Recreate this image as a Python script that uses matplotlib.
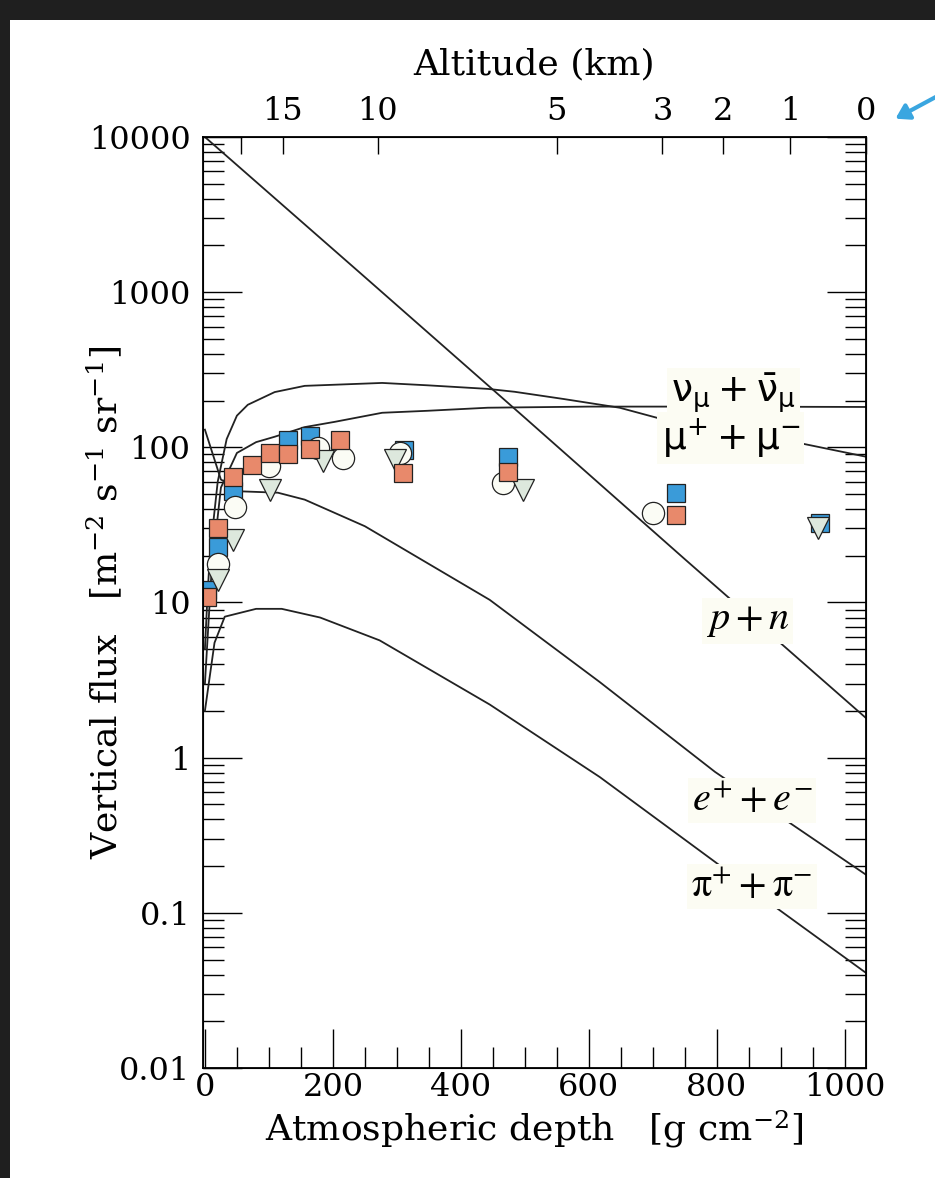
import matplotlib
matplotlib.use("Agg")
import matplotlib.pyplot as plt
import matplotlib.ticker as mticker
from matplotlib.patches import Rectangle, FancyArrowPatch

plt.rcParams['font.family'] = ['DejaVu Serif']
plt.rcParams['mathtext.fontset'] = 'dejavuserif'

# ---- model curves (depth in g/cm^2, flux in m^-2 s^-1 sr^-1) ----
pn_depth = [0, 250, 500, 750, 1033]
pn_flux = [10000, 1250, 155, 19, 1.8]

mu_depth = [0, 4, 8, 20, 34, 50, 67, 109, 156, 277, 348, 442, 484, 560, 648, 714, 927, 1033]
mu_flux = [5, 11, 21, 60, 113, 160, 188, 227, 249, 260, 251, 238, 228, 205, 180, 152, 107, 87]

nu_depth = [0, 10, 25, 50, 80, 109, 156, 203, 277, 348, 442, 600, 800, 1033]
nu_flux = [3, 15, 55, 92, 108, 117, 135, 146, 167, 172, 180, 183, 183, 182]

e_depth = [0, 25, 58, 114, 156, 250, 445, 617, 797, 902, 1033]
e_flux = [130, 62, 52, 51, 46, 31, 10.4, 3.07, 0.81, 0.41, 0.176]

pi_depth = [0, 15, 31, 80, 120, 180, 273, 445, 617, 797, 886, 1033]
pi_flux = [2.0, 5.5, 8.1, 9.1, 9.1, 8.0, 5.7, 2.2, 0.75, 0.213, 0.113, 0.041]

# ---- measurements ----
orange_depth = [4, 20, 44, 73, 102, 130, 164, 211, 309, 473, 736]
orange_flux = [10.9, 30.3, 64, 77, 92, 91, 98, 112, 68, 69.5, 36.7]

blue_depth = [4, 20, 44, 130, 164, 311, 473, 736, 961]
blue_flux = [12, 22.8, 52, 112, 118, 96, 87, 51, 32.6]

circle_depth = [20, 47, 100, 177, 216, 305, 466, 700]
circle_flux = [17.7, 41, 76, 99, 85.5, 92, 59, 37.8]

tri_depth = [20, 44, 102, 184, 297, 497, 958]
tri_flux = [14, 25.3, 53, 82, 83, 53, 30.3]

# altitude axis
alt_depth = [56, 122, 270, 550, 715, 810, 915, 1033]
alt_labels = ['', '15', '10', '5', '3', '2', '1', '0']

y_ticks = [0.01, 0.1, 1, 10, 100, 1000, 10000]
y_labels = ['0.01', '0.1', '1', '10', '100', '1000', '10000']

fig = plt.figure(figsize=(9.35, 11.78), dpi=100)
fig.patch.set_facecolor('#1f1f1f')
fig.patches.append(Rectangle((10 / 935, 0), 1, 1 - 20 / 1178, transform=fig.transFigure,
                             facecolor='white', edgecolor='none', zorder=-10))

ax = fig.add_axes([0.2171, 0.0934, 0.7091, 0.7903])
ax.set_yscale('log')
ax.set_xlim(-3, 1033)
ax.set_ylim(0.01, 10000)

lw = 1.3
for d, f in [(pn_depth, pn_flux), (mu_depth, mu_flux), (nu_depth, nu_flux),
             (e_depth, e_flux), (pi_depth, pi_flux)]:
    ax.plot(d, f, color='#222222', linewidth=lw, zorder=2)

ax.plot(blue_depth, blue_flux, 's', ms=12.5, mfc='#3a9bd9', mec='#222222', mew=0.9, zorder=3)
ax.plot(circle_depth, circle_flux, 'o', ms=16, mfc='#fbfcf5', mec='#222222', mew=0.9, zorder=4)
ax.plot(tri_depth, tri_flux, 'v', ms=16, mfc='#dde8dd', mec='#222222', mew=0.9, zorder=5)
ax.plot(orange_depth, orange_flux, 's', ms=13, mfc='#e8896b', mec='#222222', mew=0.9, zorder=6)

# curve labels
box = dict(facecolor='#fcfcf3', edgecolor='none', pad=3)
sans_kw = dict(fontsize=27, ha='center', va='center', math_fontfamily='dejavusans', bbox=box, zorder=7)
serif_kw = dict(fontsize=29, ha='center', va='center', math_fontfamily='stix', bbox=box, zorder=7)
ax.text(826, 218, r'$\mathrm{\nu}_{\mathrm{\mu}} + \bar{\mathrm{\nu}}_{\mathrm{\mu}}$', **sans_kw)
ax.text(822, 115, r'$\mathrm{\mu}^{+} + \mathrm{\mu}^{-}$', **sans_kw)
ax.text(848, 7.6, r'$p + n$', **serif_kw)
ax.text(855, 0.53, r'$e^{+} + e^{-}$', **serif_kw)
ax.text(855, 0.147, r'$\mathrm{\pi}^{+} + \mathrm{\pi}^{-}$', **serif_kw)

# axes styling
ax.yaxis.set_major_locator(mticker.FixedLocator(y_ticks))
ax.yaxis.set_major_formatter(mticker.FixedFormatter(y_labels))
ax.yaxis.set_minor_locator(mticker.LogLocator(base=10, subs=range(2, 10), numticks=20))
ax.yaxis.set_minor_formatter(mticker.NullFormatter())
ax.xaxis.set_major_locator(mticker.MultipleLocator(200))
ax.xaxis.set_minor_locator(mticker.MultipleLocator(50))
ax.tick_params(which='major', direction='in', length=28, width=1.0, labelsize=23,
               left=True, right=True, bottom=True, top=False)
ax.tick_params(axis='y', which='major', pad=9)
ax.tick_params(axis='x', which='major', pad=3)
ax.tick_params(which='minor', direction='in', length=15, width=1.0,
               left=True, right=True, bottom=True, top=False)
for s in ax.spines.values():
    s.set_linewidth(1.3)

ax.set_xlabel(r'Atmospheric depth   [g cm$^{-2}$]', fontsize=26, labelpad=4)
ax.set_ylabel(r'Vertical flux   [m$^{-2}$ s$^{-1}$ sr$^{-1}$]', fontsize=26)
ax.yaxis.set_label_coords(-0.118, 0.5)

top = ax.twiny()
top.set_xlim(ax.get_xlim())
top.set_xticks(alt_depth)
top.set_xticklabels(alt_labels)
top.xaxis.set_minor_locator(mticker.NullLocator())
top.tick_params(direction='in', length=12, width=1.0, labelsize=23, pad=7)
top.set_xlabel('Altitude (km)', fontsize=26, labelpad=16)

fig.patches.append(FancyArrowPatch(
    (945 / 935, 1 - 92 / 1178), (893 / 935, 1 - 120 / 1178), transform=fig.transFigure,
    arrowstyle='-|>,head_length=8,head_width=5', color='#3aa6e0', linewidth=3, zorder=5))

fig.savefig('out.png', dpi=100, facecolor=fig.get_facecolor())
